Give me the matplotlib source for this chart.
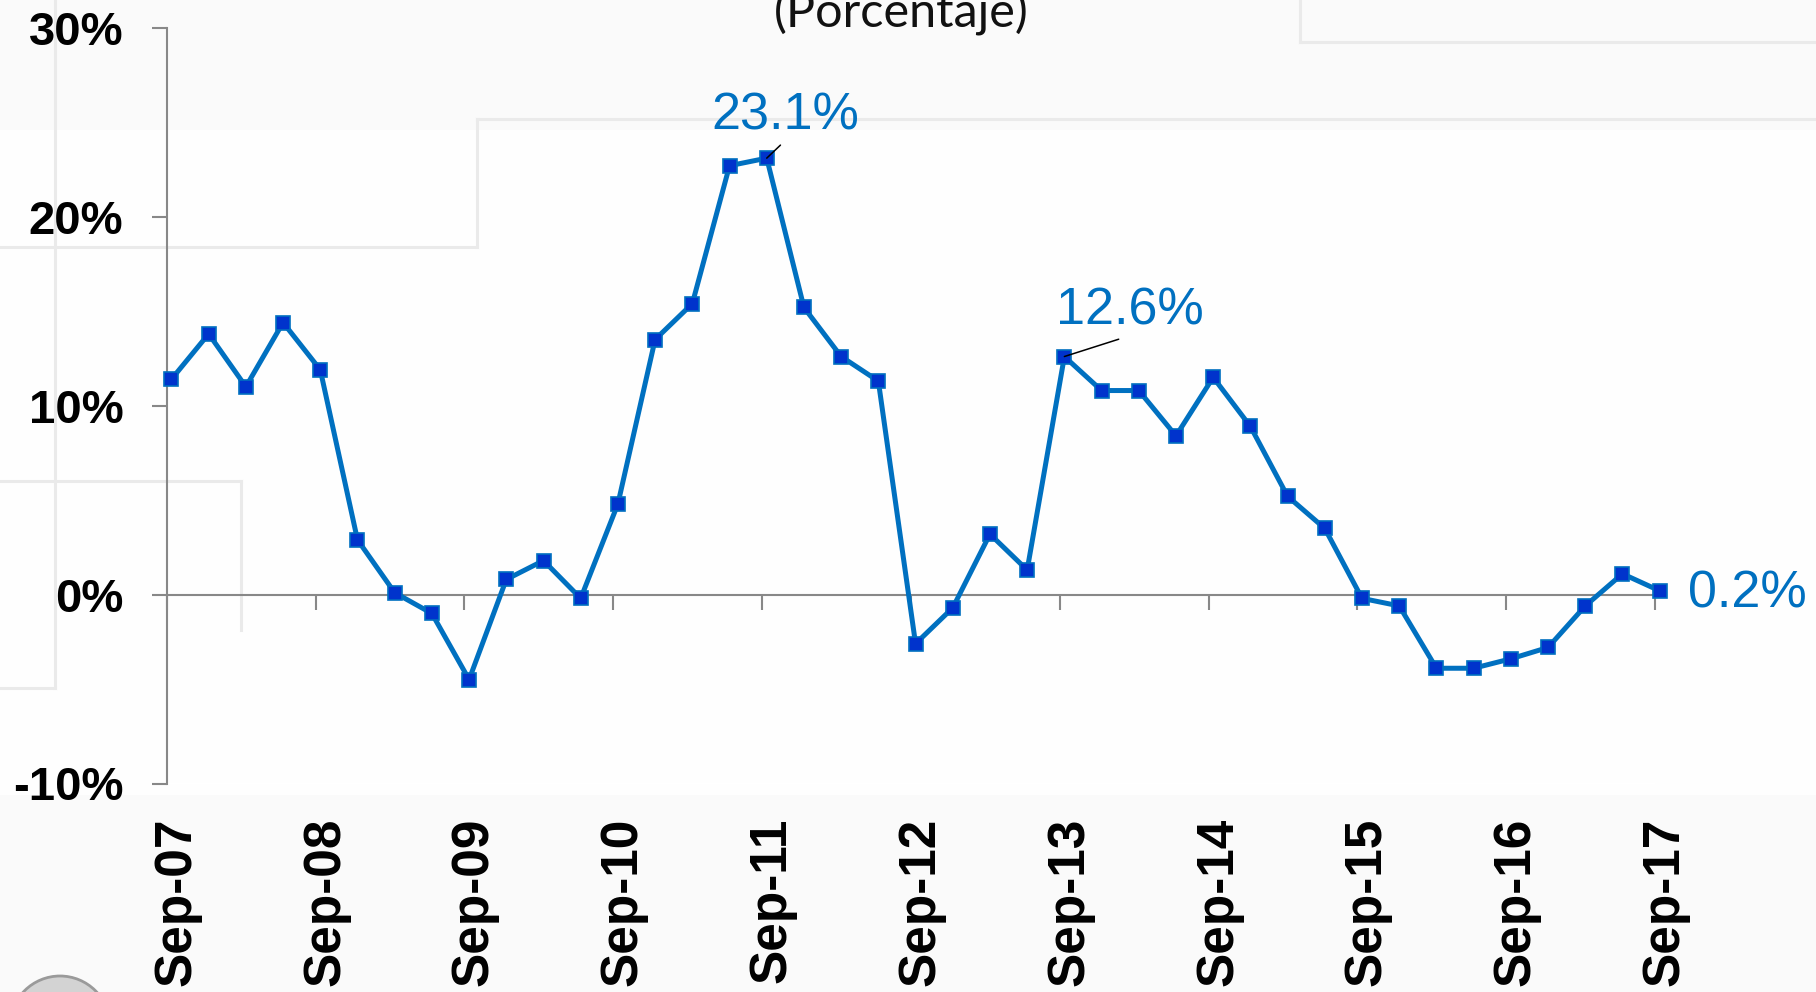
import matplotlib
matplotlib.use("Agg")
import matplotlib.pyplot as plt
from matplotlib.lines import Line2D
from matplotlib.patches import Rectangle, Circle
from matplotlib.transforms import ScaledTranslation
import numpy as np

# quarterly values, Sep-07 .. Sep-17 (%)
quarters = ["Sep-07", "Dic-07", "Mar-08", "Jun-08", "Sep-08", "Dic-08", "Mar-09", "Jun-09",
            "Sep-09", "Dic-09", "Mar-10", "Jun-10", "Sep-10", "Dic-10", "Mar-11", "Jun-11",
            "Sep-11", "Dic-11", "Mar-12", "Jun-12", "Sep-12", "Dic-12", "Mar-13", "Jun-13",
            "Sep-13", "Dic-13", "Mar-14", "Jun-14", "Sep-14", "Dic-14", "Mar-15", "Jun-15",
            "Sep-15", "Dic-15", "Mar-16", "Jun-16", "Sep-16", "Dic-16", "Mar-17", "Jun-17",
            "Sep-17"]
values = [11.4, 13.8, 11.0, 14.4, 11.9, 2.9, 0.1, -1.0,
          -4.5, 0.8, 1.8, -0.2, 4.8, 13.5, 15.4, 22.7,
          23.1, 15.2, 12.6, 11.3, -2.6, -0.7, 3.2, 1.3,
          12.6, 10.8, 10.8, 8.4, 11.5, 8.9, 5.2, 3.5,
          -0.2, -0.6, -3.9, -3.9, -3.4, -2.8, -0.6, 1.1,
          0.2]
x_labels = ["Sep-07", "Sep-08", "Sep-09", "Sep-10", "Sep-11", "Sep-12",
            "Sep-13", "Sep-14", "Sep-15", "Sep-16", "Sep-17"]
y_ticks = [-10, 0, 10, 20, 30]
y_labels = ["-10%", "0%", "10%", "20%", "30%"]
labelled = {"Sep-11": "23.1%", "Sep-13": "12.6%", "Sep-17": "0.2%"}

BLUE = "#0070C0"
GREY = "#888888"
plt.rcParams["font.family"] = ["Liberation Sans", "DejaVu Sans"]

fig = plt.figure(figsize=(18.16, 9.92), dpi=100)
fig.patch.set_facecolor("#FAFAFA")
W, H = 1816.0, 992.0

# slide background: lighter middle band and faint step lines
fig.patches.append(Rectangle((0, 1 - 795 / H), 1, (795 - 130) / H, transform=fig.transFigure,
                             facecolor="#FEFEFE", edgecolor="none", zorder=-5))
steps = [
    ([477, W], [119, 119]), ([477, 477], [119, 247]), ([0, 477], [247, 247]),
    ([1300, 1300], [0, 42]), ([1300, W], [42, 42]),
    ([55, 55], [0, 688]), ([0, 55], [688, 688]),
    ([0, 241], [481, 481]), ([241, 241], [481, 630]),
]
for xs, ys in steps:
    fig.lines.append(Line2D([v / W for v in xs], [1 - v / H for v in ys],
                            transform=fig.transFigure, color="#EAEAEA", lw=2.2, zorder=-4))

# partial seal in the lower-left corner
fig.patches.append(Circle((0.60, -0.34), 0.5, transform=fig.dpi_scale_trans,
                          facecolor="#D3D3D3", edgecolor="#9A9A9A", lw=2, zorder=-3))

fig.text(901 / W, 1 - 28 / H, "(Porcentaje)", ha="center", va="baseline",
         fontsize=35, family=["Lato", "DejaVu Sans"], color="#111111")

ax = fig.add_axes([166.8 / W, 1 - 783.5 / H, (1655 - 166.8) / W, (783.5 - 27.8) / H])
ax.set_facecolor("none")

x = np.arange(len(values))
ax.plot(x, values, color=BLUE, lw=3.6, marker="s", markersize=10.5,
        markerfacecolor="#0033CC", markeredgecolor=BLUE, markeredgewidth=1.2,
        clip_on=False, zorder=3)

# category axis sits a little left of the points
tick_pos = [quarters.index(lbl) - 0.125 for lbl in x_labels]
ax.set_xlim(-0.125, len(values) - 1.125)
ax.set_ylim(-10, 30)

ax.spines["top"].set_visible(False)
ax.spines["right"].set_visible(False)
ax.spines["left"].set_color(GREY)
ax.spines["left"].set_linewidth(1.5)
ax.spines["bottom"].set_position(("data", 0))
ax.spines["bottom"].set_color(GREY)
ax.spines["bottom"].set_linewidth(1.5)

ax.set_xticks(tick_pos)
ax.tick_params(axis="x", direction="out", length=10.8, width=1.5, color=GREY,
               labelbottom=False)
ax.set_yticks(y_ticks, labels=y_labels, fontsize=34, fontweight="bold")
ax.tick_params(axis="y", direction="out", length=10.8, width=1.5, color=GREY, pad=20.5)

# year labels at the bottom of the plot ("low" position), nudged right a bit
sec = ax.secondary_xaxis("bottom")
sec.set_xticks(tick_pos, labels=x_labels, rotation=90, fontsize=37, fontweight="bold")
sec.tick_params(length=0, pad=24.5)
sec.spines["bottom"].set_visible(False)
nudge = ScaledTranslation(0.10, 0, fig.dpi_scale_trans)
for lab in sec.get_xticklabels():
    lab.set_transform(lab.get_transform() + nudge)

# data labels
offsets = {"Sep-11": (-39.8, 20.7), "Sep-13": (-5.9, 23.0), "Sep-17": (20.4, -11.9)}
for q, txt in labelled.items():
    i = quarters.index(q)
    arrow = None
    if q != "Sep-17":
        arrow = dict(arrowstyle="-", color="black", lw=1.1, relpos=(0.5, 0),
                     shrinkA=2, shrinkB=0)
    ax.annotate(txt, xy=(i, values[i]), xytext=offsets[q], textcoords="offset points",
                ha="left", va="baseline", fontsize=37.5, color=BLUE,
                arrowprops=arrow, annotation_clip=False, zorder=4)

fig.savefig("out.png", dpi=100, facecolor=fig.get_facecolor())
